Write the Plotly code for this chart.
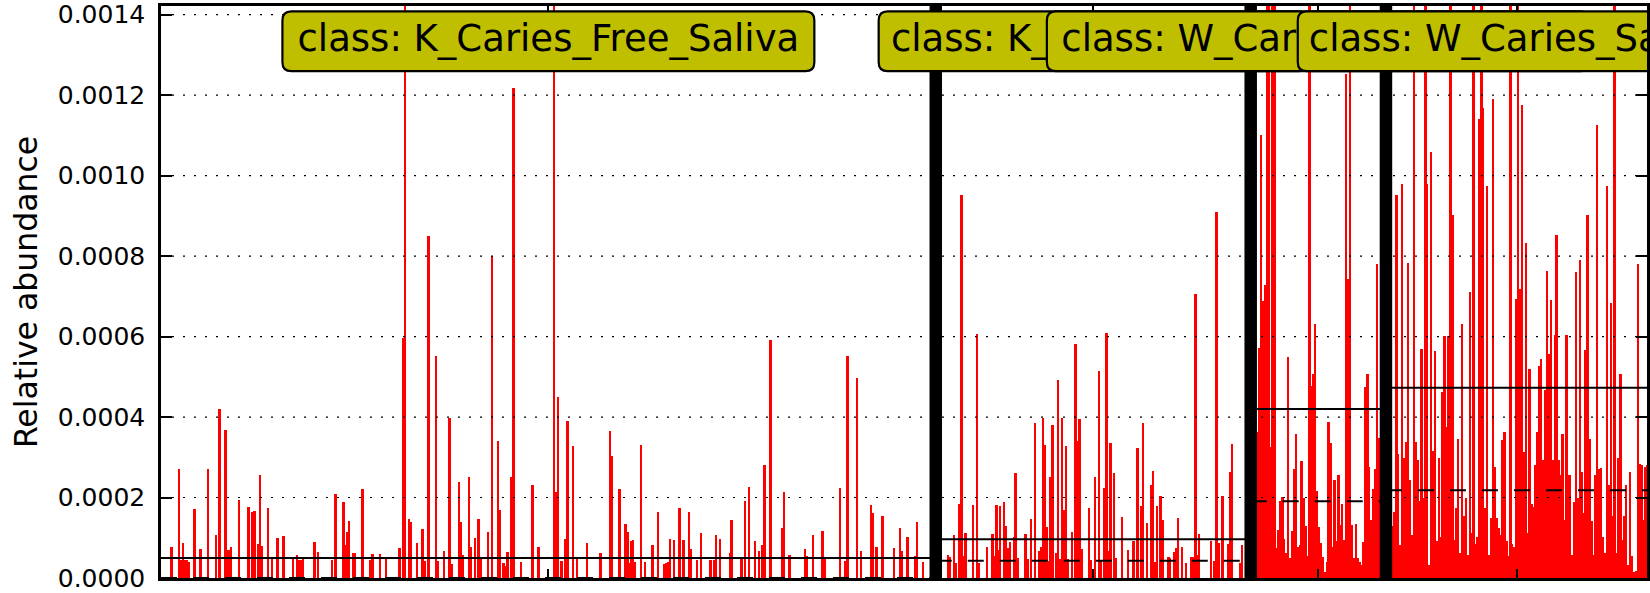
import plotly.graph_objects as go

class_labels = ["class: K_Caries_Free_Saliva", "class: K_Caries_Saliva",
                "class: W_Caries_Free_Saliva", "class: W_Caries_Saliva"]

# relative abundance of every sample, in units of 1e-6
k_caries_free = [
    0, 0, 0, 0, 0, 78, 0, 0, 0, 270, 45, 87, 45, 45, 40, 0, 0, 171, 0, 0,
    72, 0, 0, 0, 270, 0, 0, 0, 106, 0, 420, 0, 0, 369, 69, 69, 76, 0, 0, 0,
    195, 0, 0, 0, 0, 176, 0, 165, 167, 0, 84, 257, 80, 0, 0, 175, 0, 47, 0, 0,
    99, 0, 0, 105, 0, 0, 0, 0, 47, 0, 58, 45, 45, 47, 0, 0, 0, 0, 0, 89,
    0, 64, 0, 0, 0, 0, 0, 0, 45, 0, 210, 0, 0, 0, 188, 81, 114, 142, 0, 62,
    62, 0, 0, 0, 220, 0, 0, 0, 45, 59, 0, 0, 0, 60, 0, 0, 47, 0, 0, 0,
    0, 0, 0, 74, 0, 596, 1500, 0, 146, 140, 0, 0, 88, 0, 0, 122, 43, 0, 849, 0,
    0, 0, 551, 43, 0, 0, 66, 0, 0, 398, 35, 0, 0, 0, 239, 138, 56, 0, 0, 251,
    78, 0, 100, 0, 146, 47, 0, 0, 0, 115, 0, 800, 0, 0, 341, 168, 0, 37, 30, 64,
    0, 250, 1217, 0, 0, 0, 39, 0, 0, 0, 0, 0, 231, 0, 0, 76, 0, 0, 0, 0,
    0, 0, 0, 1500, 213, 449, 0, 43, 0, 96, 389, 0, 0, 328, 0, 47, 0, 0, 0, 0,
    87, 0, 0, 0, 0, 0, 0, 63, 0, 0, 0, 0, 365, 303, 0, 0, 0, 220, 0, 0,
    134, 115, 37, 91, 94, 40, 0, 0, 331, 0, 40, 0, 0, 0, 81, 0, 0, 165, 0, 0,
    35, 37, 39, 97, 0, 95, 0, 0, 173, 0, 95, 0, 0, 165, 72, 0, 0, 45, 0, 113,
    0, 0, 0, 0, 45, 0, 45, 106, 0, 97, 0, 0, 0, 0, 62, 143, 0, 0, 0, 0,
    49, 0, 192, 0, 225, 0, 0, 91, 0, 66, 0, 82, 280, 0, 0, 591, 0, 0, 0, 0,
    0, 124, 214, 0, 0, 56, 0, 0, 0, 0, 0, 0, 0, 73, 55, 0, 0, 106, 0, 0,
    0, 0, 117, 49, 0, 0, 0, 0, 0, 0, 0, 224, 0, 0, 43, 551, 0, 0, 0, 0,
    497, 0, 66, 0, 0, 0, 0, 181, 161, 0, 77, 0, 0, 153, 0, 0, 0, 0, 0, 74,
    0, 0, 124, 66, 0, 0, 101, 0, 0, 0, 55, 140, 0, 0, 41, 0, 0, 0, 0, 0,
    0,
]

k_caries = [
    0, 0, 0, 0, 0, 0, 56, 51, 0, 107, 37, 0, 185, 953, 54, 111, 0, 0, 0, 181,
    0, 607, 37, 0, 0, 0, 76, 0, 0, 109, 55, 181, 70, 178, 0, 190, 129, 74, 89, 0,
    103, 260, 49, 0, 0, 0, 109, 47, 0, 146, 0, 386, 0, 66, 77, 397, 330, 126, 43, 250,
    379, 0, 63, 492, 48, 398, 168, 328, 48, 0, 115, 0, 581, 340, 394, 73, 0, 0, 0, 173,
    45, 0, 251, 0, 514, 44, 0, 223, 608, 66, 336, 0, 262, 49, 0, 0, 152, 0, 0, 70,
    0, 0, 92, 0, 323, 0, 179, 386, 0, 136, 0, 232, 266, 41, 179, 0, 204, 144, 0, 0,
    52, 49, 0, 64, 74, 148, 0, 77, 0, 37, 0, 0, 52, 52, 707, 56, 109, 0, 0, 0,
    0, 0, 93, 0, 43, 910, 87, 0, 204, 0, 0, 85, 264, 334, 0, 0, 0, 37, 82, 0,
    0, 0, 0,
]

w_caries_free = [
    0, 0, 0,
    363, 571, 1102, 688, 727, 1500, 1500, 326, 1500, 1500,
    74, 120, 191, 202, 97, 62, 550, 49, 118, 272,
    359, 76, 81, 290, 198, 129, 54, 1500, 478, 507,
    631, 216, 126, 88, 51, 16, 40, 387, 336, 76,
    243, 91, 256, 132, 184, 95, 1253, 744, 1500, 132,
    49, 134, 49, 39, 33, 90, 474, 507, 276, 144,
    221, 272, 781, 349, 213, 190,
    0,
]

w_caries = [
    0, 0, 0,
    128, 165, 951, 309, 82, 979, 297, 338, 783, 243,
    107, 1500, 338, 293, 191, 569, 198, 1500, 979, 33,
    1058, 316, 565, 91, 297, 101, 462, 602, 375, 602,
    1500, 903, 95, 173, 346, 62, 631, 153, 198, 58,
    711, 111, 1500, 84, 103, 1140, 1500, 1167, 173, 975,
    58, 148, 1191, 275, 148, 124, 107, 342, 363, 92,
    54, 1500, 84, 78, 694, 1500, 717, 1176, 313, 833,
    111, 519, 183, 177, 282, 363, 528, 544, 293, 466,
    763, 556, 692, 293, 603, 853, 293, 256, 359, 144,
    603, 256, 257, 56, 188, 760, 198, 791, 264, 161,
    567, 903, 346, 142, 56, 256, 1127, 270, 274, 103,
    62, 974, 232, 683, 153, 1500, 62, 297, 507, 95,
    154, 232, 33, 264, 54, 16, 18, 781, 284, 282,
    144, 276, 280,
]

class_means = [50, 96, 420, 473]
class_medians = [0, 43, 191, 218]

ytick_vals = [0, 200, 400, 600, 800, 1000, 1200, 1400]
ytick_text = ["0.0000", "0.0002", "0.0004", "0.0006", "0.0008", "0.0010", "0.0012", "0.0014"]

# ---------------------------------------------------------------- layout constants
W, H = 1650, 593
ML, MR, MT, MB = 161, 0, 5, 13
PX_PER_SAMPLE = 1.936
Y_TOP = 1421.5
FONT = "DejaVu Sans"

groups = [k_caries_free, k_caries, w_caries_free, w_caries]
values = [v for g in groups for v in g]
n = len(values)
bounds = [0]
for g in groups:
    bounds.append(bounds[-1] + len(g))
centers = [(bounds[k] + bounds[k + 1]) / 2 - 0.5 for k in range(len(groups))]

plot_w = W - ML - MR
plot_h = H - MT - MB
x_end = -0.5 + plot_w / PX_PER_SAMPLE

fig = go.Figure()
fig.add_trace(go.Bar(
    x=list(range(n)), y=values, width=1.0,
    marker=dict(color="#ff0000", line=dict(width=0)),
    showlegend=False, hoverinfo="skip",
))
for k in range(len(groups)):
    x0, x1 = bounds[k] - 0.5, bounds[k + 1] - 0.5
    fig.add_trace(go.Scatter(x=[x0, x1], y=[class_means[k]] * 2, mode="lines",
                             line=dict(color="black", width=2), showlegend=False, hoverinfo="skip"))
    fig.add_trace(go.Scatter(x=[x0, x1], y=[class_medians[k]] * 2, mode="lines",
                             line=dict(color="black", width=2, dash="16px,16px"),
                             showlegend=False, hoverinfo="skip"))

shapes = []
# dotted grid drawn above the bars
for v in ytick_vals[1:]:
    shapes.append(dict(type="line", xref="paper", yref="y", x0=0, x1=1, y0=v, y1=v,
                       line=dict(color="black", width=1.2, dash="2px,9px"), layer="above"))
# thick class separators
for b in bounds[1:-1]:
    shapes.append(dict(type="line", xref="x", yref="paper", x0=b - 0.5, x1=b - 0.5, y0=0, y1=1,
                       line=dict(color="black", width=12.5), layer="above"))

# rounded class boxes
upx = 1.0 / PX_PER_SAMPLE  # data units per pixel (x)
ypx = 1.0 / plot_h         # paper units per pixel (y)
half_w = [266.5, 215, 272, 220]
box_top = (H - MB - 10.5) / plot_h
box_bot = (H - MB - 70.5) / plot_h
rad = 9
for k, lab in enumerate(class_labels):
    xa = centers[k] - half_w[k] * upx
    xb = centers[k] + half_w[k] * upx
    rx, ry = rad * upx, rad * ypx
    path = (f"M {xa + rx},{box_top} L {xb - rx},{box_top} Q {xb},{box_top} {xb},{box_top - ry} "
            f"L {xb},{box_bot + ry} Q {xb},{box_bot} {xb - rx},{box_bot} "
            f"L {xa + rx},{box_bot} Q {xa},{box_bot} {xa},{box_bot + ry} "
            f"L {xa},{box_top - ry} Q {xa},{box_top} {xa + rx},{box_top} Z")
    shapes.append(dict(type="path", xref="x", yref="paper", path=path,
                       fillcolor="#bfbf00", line=dict(color="black", width=2.2), layer="above",
                       label=dict(text=lab, textposition="top center", padding=3,
                                  font=dict(family=FONT, size=37, color="black"))))

fig.update_layout(
    width=W, height=H,
    margin=dict(l=ML, r=MR, t=MT, b=MB, pad=0),
    paper_bgcolor="white", plot_bgcolor="white",
    bargap=0, showlegend=False,
    font=dict(family=FONT, color="black"),
    shapes=shapes,
    xaxis=dict(range=[-0.5, x_end], showgrid=False, zeroline=False,
               showline=True, linecolor="black", linewidth=2.5, mirror="ticks",
               ticks="inside", ticklen=9, tickwidth=1.5, tickcolor="black",
               tickvals=centers, showticklabels=False),
    yaxis=dict(range=[0, Y_TOP], showgrid=False, zeroline=False,
               showline=True, linecolor="black", linewidth=2.5, mirror="ticks",
               ticks="inside", ticklen=11, tickwidth=1.5, tickcolor="black",
               tickvals=ytick_vals, ticktext=ytick_text, ticklabelstandoff=8,
               ticklabeloverflow="allow",
               tickfont=dict(family=FONT, size=25, color="black"),
               title=dict(text="Relative abundance", standoff=11,
                          font=dict(family=FONT, size=31.5, color="black"))),
)

fig.write_html("out.html", config={"displayModeBar": False},
               post_script="document.body.style.margin='0';document.body.style.overflow='hidden';")
